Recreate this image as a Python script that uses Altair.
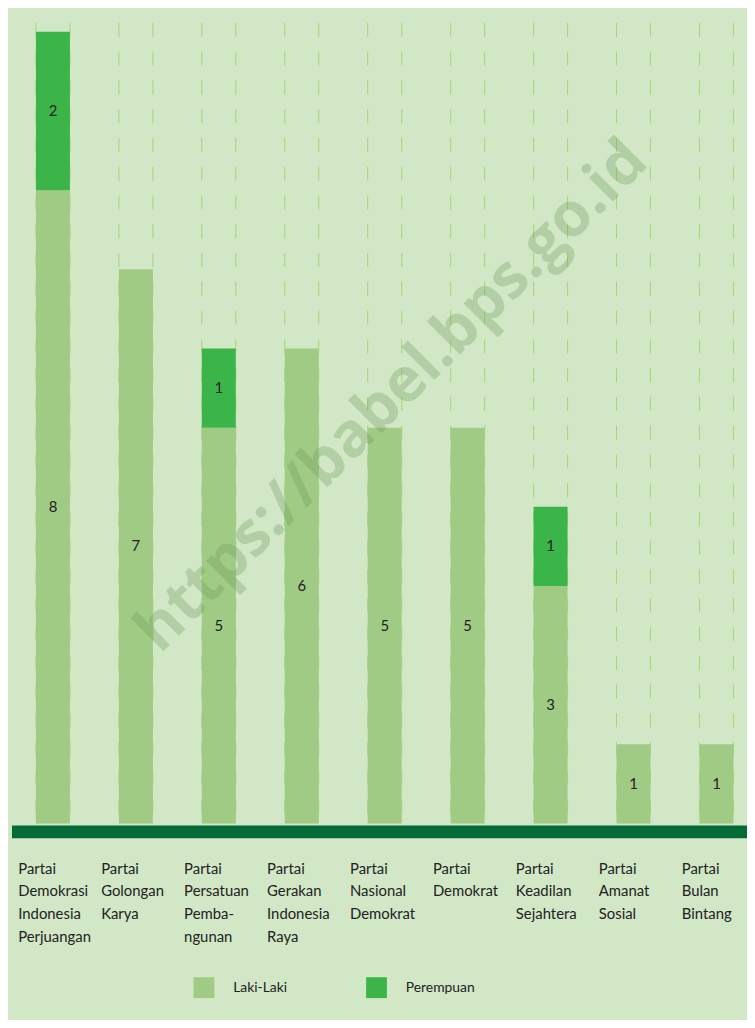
import altair as alt
import pandas as pd

# ---- data -------------------------------------------------------------
parties = [
    "Partai|Demokrasi|Indonesia|Perjuangan",
    "Partai|Golongan|Karya",
    "Partai|Persatuan|Pemba-|ngunan",
    "Partai|Gerakan|Indonesia|Raya",
    "Partai|Nasional|Demokrat",
    "Partai|Demokrat",
    "Partai|Keadilan|Sejahtera",
    "Partai|Amanat|Sosial",
    "Partai|Bulan|Bintang",
]
laki = [8, 7, 5, 6, 5, 5, 3, 1, 1]
perempuan = [2, 0, 1, 0, 0, 0, 1, 0, 0]
genders = ["Laki-Laki", "Perempuan"]
colors = ["#a0cb84", "#3bb54a"]
watermark = "https://babel.bps.go.id"

rows = []
for p, l, w in zip(parties, laki, perempuan):
    rows.append({"partai": p, "jenis": genders[0], "jumlah": l, "urut": 0})
    if w > 0:
        rows.append({"partai": p, "jenis": genders[1], "jumlah": w, "urut": 1})
df = pd.DataFrame(rows)
df_p = pd.DataFrame({"partai": parties})

PLOT_W = 745
PLOT_H = 818
BG = "#d1e7c6"

xscale = alt.Scale(domain=parties, range=[3.5, 756], paddingInner=0.59,
                   paddingOuter=0.295, round=False)
yscale = alt.Scale(domain=[0, 10.25], nice=False)

xaxis = alt.Axis(
    title=None,
    domainColor="#046a38",
    domainWidth=13,
    offset=8,
    ticks=False,
    grid=False,
    labelAngle=0,
    labelAlign="left",
    labelBaseline="top",
    labelOffset=-35,
    labelPadding=30,
    labelFontSize=15,
    labelFont="Lato",
    labelColor="#222222",
    labelLineHeight=23,
    labelLimit=0,
    labelOverlap=False,
    labelExpr="split(datum.label, '|')",
)

# dashed guide lines at bar edges
def edge(pos):
    return alt.Chart(df_p).mark_rule(
        color="#a9d472", strokeWidth=1, strokeDash=[14, 15], strokeDashOffset=18
    ).encode(
        x=alt.X("partai:N", scale=xscale, sort=parties, bandPosition=pos, axis=xaxis),
        y=alt.value(0),
        y2=alt.value(PLOT_H),
    )

bars = alt.Chart(df).mark_bar().encode(
    x=alt.X("partai:N", scale=xscale, sort=parties, axis=xaxis),
    y=alt.Y("jumlah:Q", stack="zero", scale=yscale, axis=None),
    color=alt.Color(
        "jenis:N",
        scale=alt.Scale(domain=genders, range=colors),
        legend=alt.Legend(
            title=None,
            orient="none",
            legendX=187,
            legendY=973,
            direction="horizontal",
            symbolType="square",
            symbolSize=441,
            symbolStrokeWidth=0,
            symbolOpacity=1,
            labelFontSize=14,
            labelFont="Lato",
            labelColor="#222222",
            labelOffset=19,
            columnPadding=79,
            padding=0,
        ),
    ),
    order=alt.Order("urut:Q", sort="ascending"),
)

labels = alt.Chart(df).transform_stack(
    stack="jumlah",
    groupby=["partai"],
    as_=["y0", "y1"],
    sort=[alt.SortField("urut", order="ascending")],
).transform_calculate(
    mid="(datum.y0 + datum.y1) / 2"
).mark_text(
    font="Lato", fontSize=15, color="#222222", baseline="middle"
).encode(
    x=alt.X("partai:N", scale=xscale, sort=parties, axis=xaxis),
    y=alt.Y("mid:Q", scale=yscale, axis=None),
    text=alt.Text("jumlah:Q"),
)

wm = alt.Chart(pd.DataFrame({"t": [watermark]})).mark_text(
    angle=315,
    font="Open Sans",
    fontSize=62,
    fontWeight="bold",
    color="#6e9758",
    opacity=0.3,
    align="center",
    baseline="middle",
).encode(
    x=alt.value(387),
    y=alt.value(387),
    text="t:N",
)

chart = alt.layer(edge(0), edge(1), bars, labels, wm).properties(
    width=PLOT_W,
    height=PLOT_H,
    autosize=alt.AutoSizeParams(type="none"),
    padding={"left": 0, "top": 0, "right": 0, "bottom": 194},
    background=BG,
).configure_view(stroke=None)

chart.save("out.html", embed_options={"renderer": "svg", "actions": False})
